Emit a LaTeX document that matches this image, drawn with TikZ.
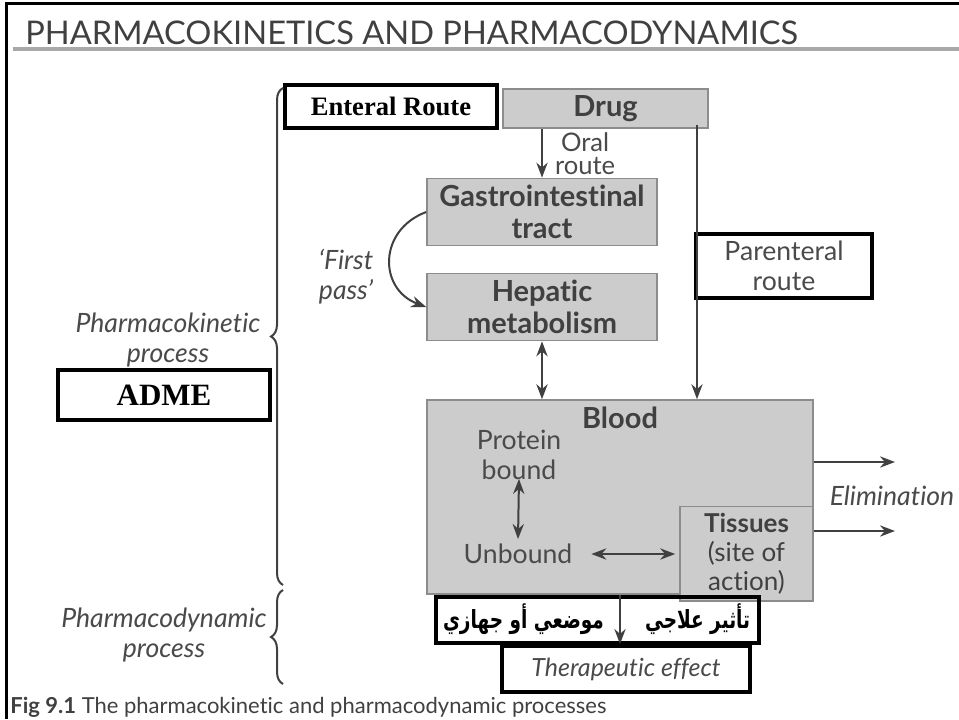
\documentclass[tikz,border=0pt]{standalone}
\usepackage{fontspec}
\setmainfont{Lato}[Ligatures=NoCommon]
\newfontfamily\timesfont{Liberation Serif}
\newfontfamily\arabicfont[Script=Arabic,FakeStretch=0.74]{DejaVu Sans}
\TeXXeTstate=1
\usetikzlibrary{arrows.meta,positioning,decorations.pathreplacing}
\definecolor{boxfill}{HTML}{CCCCCC}
\definecolor{boxline}{HTML}{8C8C8C}
\definecolor{inkgray}{HTML}{404040}
\definecolor{txtgray}{HTML}{4A4A4A}
\definecolor{rulegray}{HTML}{A8A8A8}

\begin{document}
\begin{tikzpicture}[x=0.5pt,y=-0.5pt,>=Stealth,
 gbox/.style={draw=boxline,fill=boxfill,line width=0.8pt,align=center,text=inkgray,font=\bfseries\fontsize{14.5}{16}\selectfont},
 markbox/.style={draw=black,line width=2pt,align=center},
 lbl/.style={text=txtgray,align=center,font=\fontsize{13.3}{15}\selectfont},
 itlbl/.style={text=txtgray,align=center,font=\itshape\fontsize{13.3}{15}\selectfont},
 arlbl/.style={font=\arabicfont\bfseries\fontsize{12.5}{14}\selectfont},
 arrow/.style={->,line width=1pt,draw=inkgray},
 dblarrow/.style={<->,line width=1pt,draw=inkgray},
 bracket/.style={decorate,decoration={brace,amplitude=6pt},line width=1pt,draw=inkgray}]
\useasboundingbox (0,0) rectangle (959,719);
% frame and heading
\draw[line width=1.5pt] (959,3) -- (6,3) -- (6,719);
\node[anchor=base west,text=inkgray,font=\fontsize{16.3}{18}\selectfont,inner sep=0pt] (title) at (25,44) {PHARMACOKINETICS AND PHARMACODYNAMICS};
\draw[rulegray,line width=1.8pt] (13,49) -- (959,49);

% boxes
\node[gbox,minimum width=102.5pt,minimum height=16.5pt] (drug) at (605.5,108.5) {Drug};
\node[gbox,minimum width=115pt,minimum height=30pt] (gi) at (542,212) {Gastrointestinal\\tract};
\node[gbox,minimum width=115pt,minimum height=31pt] (hep) at (542,307) {Hepatic\\metabolism};
\node[gbox,minimum width=193pt,minimum height=97pt] (blood) at (620,497) {};
\node[gbox,anchor=north,draw=none,fill=none] (bloodlbl) at (blood.north) {Blood};
\node[gbox,minimum width=66.5pt,minimum height=40.5pt,font=\fontsize{13}{14.5}\selectfont] (tissues) at (746.5,553.5) {\textbf{Tissues}\\(site of\\action)};
\node[lbl] (bound) at (519,455) {Protein\\bound};
\node[lbl] (unbound) at (518,554) {Unbound};

% marked boxes
\node[markbox,minimum width=106pt,minimum height=21.5pt,font=\timesfont\bfseries\fontsize{13.3}{15}\selectfont] (enteral) at (391,106.5) {Enteral Route};
\node[markbox,minimum width=106pt,minimum height=25pt,font=\timesfont\bfseries\fontsize{15.5}{17}\selectfont] (adme) at (164,395) {ADME};
\node[markbox,minimum width=88pt,minimum height=30pt,lbl] (parent) at (784,266) {Parenteral\\route};
\node[markbox,minimum width=161.5pt,minimum height=23pt] (effbox) at (597.5,620) {};
\node[arlbl,anchor=east] (local) at (611,619) {\beginR موضعي أو جهازي\endR};
\node[arlbl,anchor=west] (thereff) at (638,619) {\beginR تأثير علاجي\endR};
\node[markbox,minimum width=124pt,minimum height=23pt,itlbl,font=\itshape\fontsize{12.5}{14}\selectfont] (thera) at (626,669) {Therapeutic effect};

% connectors
\coordinate (parline) at (697,125);
\coordinate (elimA) at (895,462);
\coordinate (elimB) at (895,531);
\draw[arrow] (gi.north |- drug.south) -- node[lbl,right=6pt,inner sep=0pt,font=\fontsize{12.8}{11.5}\selectfont] (oral) {Oral\\route} (gi.north);
\draw[arrow] (gi.west) .. controls +(-48,18) and +(-48,-18) .. (hep.west);
\node[itlbl] (firstpass) at (346,277) {`First\\pass'};
\draw[dblarrow] ([yshift=4pt]bound.south) -- ([yshift=-1pt]unbound.north);
\draw[dblarrow] ([xshift=6pt]unbound.east) -- ([xshift=-2pt]tissues.west |- unbound.east);
\draw[arrow] (blood.east |- elimA) -- (elimA);
\draw[arrow] (tissues.east |- elimB) -- (elimB);
\node[itlbl] (elim) at (892,496) {Elimination};
\draw[arrow] (blood.south) -- (blood.south |- thera.north);
\draw[dblarrow] (hep.south) -- (hep.south |- blood.north);
\draw[arrow] (parline) -- (parline |- blood.north);

% process braces
\draw[bracket] (283,585) -- (283,88);
\draw[bracket] (283,684) -- (283,590);
\node[itlbl] (pkin) at (168,340) {Pharmacokinetic\\process};
\node[itlbl] (pdyn) at (164,635) {Pharmacodynamic\\process};

% caption
\node[anchor=base west,text=inkgray,font=\fontsize{11}{13}\selectfont,inner sep=0pt] (caption) at (10,713) {\textbf{Fig 9.1} The pharmacokinetic and pharmacodynamic processes};
\end{tikzpicture}
\end{document}
